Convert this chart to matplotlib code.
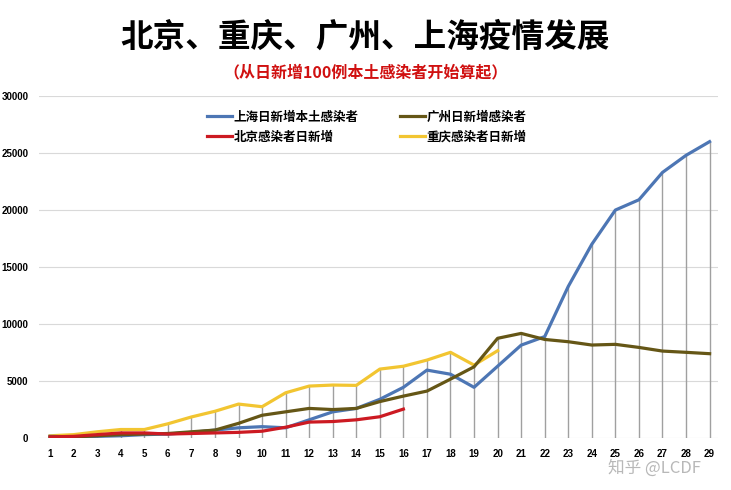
import numpy as np
import matplotlib
matplotlib.use("Agg")
import matplotlib.pyplot as plt

plt.rcParams['font.family'] = ['Noto Sans CJK SC', 'DejaVu Sans']

days = list(range(1, 30))
shanghai = [150, 100, 150, 200, 300, 350, 500, 700, 900, 1000, 900, 1600, 2300, 2600,
            3400, 4450, 5960, 5600, 4450, 6300, 8150, 8900, 13300, 17000, 20000, 20900,
            23300, 24800, 26000]
guangzhou = [100, 100, 200, 300, 350, 400, 550, 700, 1290, 2000, 2300, 2600, 2500, 2600,
             3200, 3680, 4120, 5170, 6250, 8750, 9180, 8650, 8450, 8160, 8220, 7950,
             7630, 7520, 7400]
beijing = [100, 150, 300, 450, 450, 350, 400, 450, 500, 600, 950, 1400, 1450, 1600,
           1870, 2540]
chongqing = [200, 300, 550, 750, 750, 1250, 1850, 2350, 2980, 2750, 3970, 4560, 4650, 4620,
             6050, 6300, 6840, 7520, 6400, 7660]

names = ["上海日新增本土感染者", "广州日新增感染者", "北京感染者日新增", "重庆感染者日新增"]
colors = ["#4d76b4", "#655616", "#cc1a22", "#f2c531"]

fig = plt.figure(figsize=(7.31, 4.90), dpi=100)
ax = fig.add_axes([0.054, 0.106, 0.928, 0.698])

# drop lines from the highest point down to the axis
series = [shanghai, guangzhou, beijing, chongqing]
tops = []
for i in range(len(days)):
    tops.append(max(s[i] for s in series if i < len(s)))
ax.vlines(days, 0, tops, color="#a0a0a0", lw=1, zorder=1)

ax.plot(days, shanghai, color=colors[0], lw=2.3, label=names[0], zorder=3)
ax.plot(days, guangzhou, color=colors[1], lw=2.3, label=names[1], zorder=3)
ax.plot(days[:len(beijing)], beijing, color=colors[2], lw=2.3, label=names[2], zorder=4)
ax.plot(days[:len(chongqing)], chongqing, color=colors[3], lw=2.3, label=names[3], zorder=2)

ax.set_xlim(0.55, 29.35)
ax.set_ylim(0, 30000)
ax.set_yticks(range(0, 30001, 5000))
ax.set_xticks(days)
ax.grid(axis="y", color="#d9d9d9", lw=0.8)
ax.set_axisbelow(True)
for s in ax.spines.values():
    s.set_visible(False)
ax.tick_params(length=0, labelsize=7)
ax.tick_params(axis="x", pad=8)
ax.tick_params(axis="y", pad=8)
for lab in ax.get_xticklabels() + ax.get_yticklabels():
    lab.set_fontweight("bold")
    lab.set_family("Liberation Sans")

handles, labels = ax.get_legend_handles_labels()
order = [0, 2, 1, 3]
ax.legend([handles[i] for i in order], [labels[i] for i in order], ncol=2, frameon=False,
          loc="upper left", bbox_to_anchor=(0.23, 0.99), handlelength=2.0,
          handletextpad=0.15, columnspacing=3.3, labelspacing=0.55,
          prop={'weight': 'bold', 'size': 9})

fig.text(0.50, 0.925, "北京、重庆、广州、上海疫情发展", ha="center", va="center",
         fontsize=23.5, fontweight="bold", color="black")
fig.text(0.50, 0.853, "（从日新增100例本土感染者开始算起）", ha="center", va="center",
         fontsize=11.5, fontweight="bold", color="#d01010")
fig.text(0.895, 0.045, "知乎 @LCDF", ha="center", va="center", fontsize=12,
         color="#b8b8b8")

fig.savefig("out.png", dpi=100)
